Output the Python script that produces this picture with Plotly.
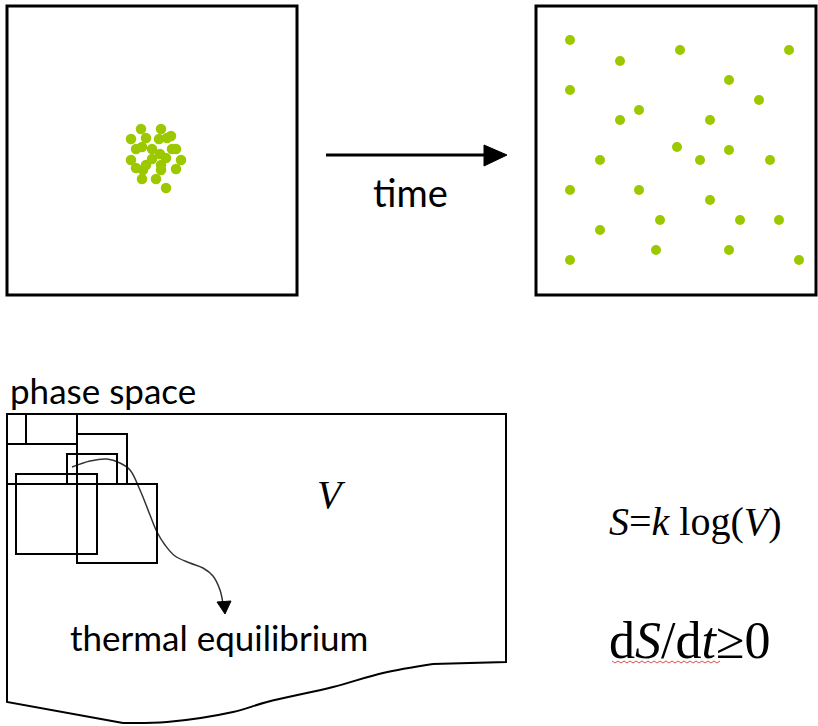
import plotly.graph_objects as go

# ---- data -------------------------------------------------------------
# particles at the start (tight cluster) - pixel-space coordinates
cluster_x = [141, 161, 131, 146, 159, 167, 171, 136, 142, 152, 172, 176, 160,
             131, 152, 166, 181, 136, 146, 161, 176, 142, 156, 161, 143, 166]
cluster_y = [129, 129, 139, 138, 139, 138, 136, 149, 147, 149, 149, 149, 154,
             160, 159, 158, 160, 168, 165, 165, 169, 179, 179, 170, 170, 188]
# particles later (spread out)
spread_x = [570, 680, 789, 620, 570, 729, 759, 639, 620, 710, 677, 729, 600,
            700, 770, 570, 639, 710, 660, 740, 779, 600, 656, 729, 570, 799]
spread_y = [40, 50, 50, 61, 90, 80, 100, 110, 120, 120, 147, 150, 160,
            160, 160, 190, 190, 200, 220, 220, 220, 230, 250, 250, 260, 260]

# phase space outline
outline_x = [433, 506, 506, 7, 7, 123]
outline_y = [664, 662, 414, 414, 702, 723]
wave_x = [123, 167, 233, 267, 333, 383, 433]
wave_y = [723, 722, 712, 702, 687, 673, 664]

# coarse-graining cells (x0, y0, x1, y1)
cells = [(7, 414, 26, 444), (26, 414, 77, 444), (7, 444, 77, 484),
         (77, 434, 127, 484), (67, 454, 117, 484), (16, 474, 97, 554),
         (77, 484, 157, 563)]

# trajectory towards equilibrium
traj_x = [72, 90, 107, 120, 130, 140, 150, 157, 165, 175, 190, 203, 213, 220, 223]
traj_y = [467, 461, 459, 463, 470, 490, 515, 532, 545, 556, 563, 568, 576, 590, 604]

GREEN = "#9cc800"
SANS = "Lato, 'Open Sans', sans-serif"
SERIF = "'Liberation Serif', 'Times New Roman', serif"

W, H = 818, 726

fig = go.Figure()

shapes = []
shapes.append(dict(type="rect", x0=7, y0=6, x1=297, y1=295,
                   line=dict(color="black", width=3)))
shapes.append(dict(type="rect", x0=536, y0=6, x1=816, y1=295,
                   line=dict(color="black", width=3)))
# time arrow
shapes.append(dict(type="line", x0=326, y0=155, x1=487, y1=155,
                   line=dict(color="black", width=3)))
shapes.append(dict(type="path", path="M 484 145 L 507 155 L 484 166 Z",
                   fillcolor="black", line=dict(color="black", width=1)))
for (a, b, c, d) in cells:
    shapes.append(dict(type="rect", x0=a, y0=b, x1=c, y1=d,
                       line=dict(color="black", width=2)))
# trajectory arrowhead
shapes.append(dict(type="path", path="M 217 602 L 231 601 L 225 614 Z",
                   fillcolor="black", line=dict(color="black", width=1)))

# particles
fig.add_trace(go.Scatter(x=cluster_x, y=cluster_y, mode="markers",
                         marker=dict(color=GREEN, size=10.5, line=dict(width=0))))
fig.add_trace(go.Scatter(x=spread_x, y=spread_y, mode="markers",
                         marker=dict(color=GREEN, size=10, line=dict(width=0))))
# phase space outline
fig.add_trace(go.Scatter(x=outline_x, y=outline_y, mode="lines",
                         line=dict(color="black", width=2)))
fig.add_trace(go.Scatter(x=wave_x, y=wave_y, mode="lines",
                         line=dict(color="black", width=2, shape="spline")))
# trajectory
fig.add_trace(go.Scatter(x=traj_x, y=traj_y, mode="lines",
                         line=dict(color="#333333", width=1.5, shape="spline")))

# spell-check squiggle under dS/dt
sq_x = [612 + 3 * i for i in range(37)]
sq_y = [662 + (1 if i % 2 else -1) for i in range(37)]
fig.add_trace(go.Scatter(x=sq_x, y=sq_y, mode="lines",
                         line=dict(color="#e05050", width=1)))

annotations = [
    dict(x=410, y=192, text="time", xanchor="center", yanchor="middle",
         font=dict(family=SANS, size=38, color="black")),
    dict(x=8, y=390, text="phase space", xanchor="left", yanchor="middle",
         font=dict(family=SANS, size=35, color="black")),
    dict(x=68, y=637, text="thermal equilibrium", xanchor="left", yanchor="middle",
         font=dict(family=SANS, size=35, color="black")),
    dict(x=331, y=494, text="<i>V</i>", xanchor="center", yanchor="middle",
         font=dict(family=SERIF, size=40, color="black")),
    dict(x=607, y=521, text="<i>S</i>=<i>k</i> log(<i>V</i>)", xanchor="left",
         yanchor="middle", font=dict(family=SERIF, size=40, color="black")),
    dict(x=607, y=640, text="d<i>S</i>/d<i>t</i>≥0", xanchor="left",
         yanchor="middle", font=dict(family=SERIF, size=52, color="black")),
]
for a in annotations:
    a.update(xref="x", yref="y", showarrow=False)

fig.update_layout(
    width=W, height=H,
    margin=dict(l=0, r=0, t=0, b=0),
    paper_bgcolor="white", plot_bgcolor="white",
    showlegend=False, hovermode=False,
    shapes=shapes, annotations=annotations,
    xaxis=dict(range=[0, W], visible=False, fixedrange=True),
    yaxis=dict(range=[H, 0], visible=False, fixedrange=True),
)

# remove the default 8px page margin so the figure sits at the window origin
fig.write_html(
    "out.html",
    config={"displayModeBar": False, "staticPlot": True},
    post_script="document.body.style.margin='0';document.body.style.overflow='hidden';",
)
